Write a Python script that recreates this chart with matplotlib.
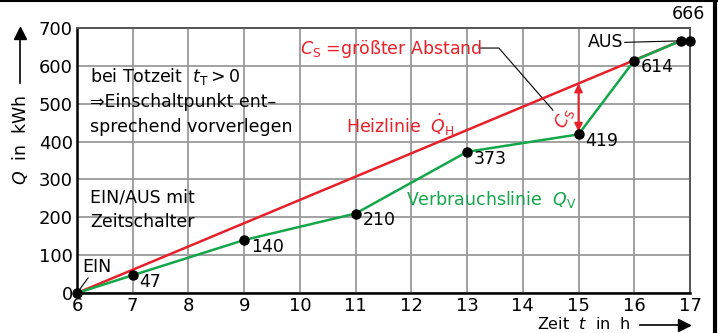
import matplotlib.pyplot as plt
from matplotlib.lines import Line2D

plt.rcParams['font.family'] = ['DejaVu Sans']
plt.rcParams['mathtext.fontset'] = 'dejavusans'

RED = "#e8202a"
GREEN = "#13a64a"
GRID = "#9a9a9a"

# Verbrauchslinie (Messpunkte)
zeit_v = [6, 7, 9, 11, 13, 15, 16, 16.83, 17]
menge_v = [0, 47, 140, 210, 373, 419, 614, 666, 666]
# Heizlinie
zeit_h = [6, 16.83, 17]
menge_h = [0, 666, 666]

# Beschriftete Punkte
label_t = [7, 9, 11, 13, 15, 16]
label_q = [47, 140, 210, 373, 419, 614]

x_ticks = list(range(6, 18))
y_ticks = list(range(0, 701, 100))

fig = plt.figure(figsize=(7.18, 3.33), dpi=100)
ax = fig.add_axes([0.1072, 0.12, 0.8538, 0.796])

ax.set_xlim(6, 17)
ax.set_ylim(0, 700)
ax.set_xticks(x_ticks)
ax.set_yticks(y_ticks)
ax.tick_params(length=0, labelsize=13, pad=3)
ax.grid(True, color=GRID, lw=1.3)
ax.set_axisbelow(True)
for side in ["top", "right"]:
    ax.spines[side].set_color("#555555")
    ax.spines[side].set_linewidth(1.4)
for side in ["left", "bottom"]:
    ax.spines[side].set_linewidth(1.8)

ax.plot(zeit_h, menge_h, color=RED, lw=1.8, zorder=3)
ax.plot(zeit_v, menge_v, color=GREEN, lw=1.8, zorder=3)
ax.plot([6] + label_t + [16.83, 17], [0] + label_q + [666, 666], "o",
        color="black", ms=6.5, zorder=5, clip_on=False)

fs = 12.5
for t, q in zip(label_t, label_q):
    ax.text(t + 0.12, q - 18, str(q), fontsize=fs, va="center", ha="left")
ax.text(16.98, 737, "666", fontsize=fs, ha="center", va="center", clip_on=False)

# Textbloecke
ax.text(6.23, 573, "bei Totzeit  $t_\\mathrm{T} > 0$", fontsize=fs, va="center")
ax.text(6.23, 504, "\u21d2Einschaltpunkt ent\u2013", fontsize=fs, va="center")
ax.text(6.23, 438, "sprechend vorverlegen", fontsize=fs, va="center")
ax.text(6.23, 251, "EIN/AUS mit", fontsize=fs, va="center")
ax.text(6.23, 188, "Zeitschalter", fontsize=fs, va="center")

ax.text(6.1, 68, "EIN", fontsize=fs, va="center")
ax.plot([6.04, 6.2], [8, 40], color="black", lw=0.8)

ax.text(15.8, 662, "AUS", fontsize=fs, va="center", ha="right")
ax.plot([15.83, 16.83], [662, 666], color="black", lw=0.8)

ax.text(10.0, 644, "$C_\\mathrm{S}$ =gr\u00f6\u00dfter Abstand", fontsize=fs,
        color=RED, va="center")
ax.plot([13.21, 13.57, 14.54], [647, 647, 483], color="black", lw=0.8)

ax.text(10.82, 444, "Heizlinie  $\\dot{Q}_\\mathrm{H}$", fontsize=fs,
        color=RED, va="center")
ax.text(11.9, 248, "Verbrauchslinie  $Q_\\mathrm{V}$", fontsize=fs,
        color=GREEN, va="center")

# groesster Abstand bei 15 h
ax.annotate("", xy=(15, 419), xytext=(15, 553),
            arrowprops=dict(arrowstyle="<|-|>", color=RED, lw=1.4,
                            mutation_scale=12, shrinkA=0, shrinkB=2))
ax.text(14.74, 462, "$C_\\mathrm{S}$", fontsize=fs, color=RED, rotation=65,
        ha="center", va="center")

# Achsbeschriftungen mit Pfeilen
fig.text(0.028, 0.58, "$Q$  in  kWh", fontsize=12.5, rotation=90,
         ha="center", va="center")
fig.add_artist(Line2D([0.028, 0.028], [0.75, 0.89], color="black", lw=1.2))
fig.add_artist(Line2D([0.028], [0.9], marker="^", ms=9, color="black"))

fig.text(0.748, 0.003, "Zeit  $t$  in  h", fontsize=11.5, ha="left", va="bottom")
fig.add_artist(Line2D([0.892, 0.945], [0.025, 0.025], color="black", lw=1.2))
fig.add_artist(Line2D([0.952], [0.025], marker=">", ms=9, color="black"))

# Rahmen
fig.add_artist(Line2D([0, 1], [0.997, 0.997], color="black", lw=1.5))
fig.add_artist(Line2D([0.9955, 0.9955], [0, 1], color="black", lw=3))

fig.savefig("out.png", dpi=100)
